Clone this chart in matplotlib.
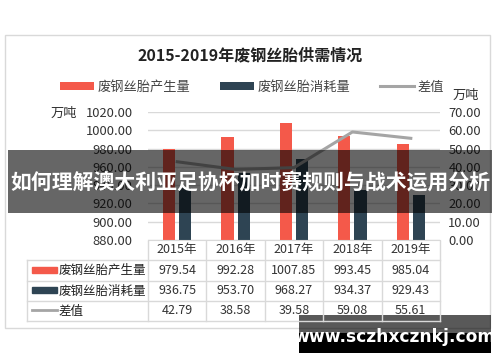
import matplotlib
matplotlib.use('Agg')
import matplotlib.pyplot as plt
import numpy as np
from matplotlib import transforms
from matplotlib.patches import Rectangle
from matplotlib.lines import Line2D

plt.rcParams['font.family'] = ['Noto Sans CJK SC', 'DejaVu Sans']

# data
years = ['2015年', '2016年', '2017年', '2018年', '2019年']
produced = [979.54, 992.28, 1007.85, 993.45, 985.04]
consumed = [936.75, 953.70, 968.27, 934.37, 929.43]
diff = [42.79, 38.58, 39.58, 59.08, 55.61]
series_names = ['废钢丝胎产生量', '废钢丝胎消耗量', '差值']
left_ticks = [880, 900, 920, 940, 960, 980, 1000, 1020]
right_ticks = [0, 10, 20, 30, 40, 50, 60, 70]
title = '2015-2019年废钢丝胎供需情况'
unit = '万吨'
banner = '如何理解澳大利亚足协杯加时赛规则与战术运用分析'
site = 'www.sczhxcznkj.com'

RED = '#F4594A'
DARK = '#2E4453'
GRAY = '#A5A5A5'
GRID = '#D9D9D9'
TXT = '#333333'

W, H = 500, 362
def fx(x): return x / W
def fy(y): return 1 - y / H

fig = plt.figure(figsize=(5, 3.62), dpi=100)

# outer chart border
fig.add_artist(Rectangle((fx(5), fy(328)), fx(490) - fx(5), (328 - 35) / H,
                         fill=False, edgecolor=GRID, lw=1, transform=fig.transFigure))

ax = fig.add_axes([fx(148), fy(240), fx(440) - fx(148), fy(112) - fy(240)])
x = np.arange(len(years))
bw = 0.207
b1 = ax.bar(x - 0.138, produced, bw, color=RED, label=series_names[0])
b2 = ax.bar(x + 0.138, consumed, bw, color=DARK, label=series_names[1])
ax.set_xlim(-0.5, len(years) - 0.5)
ax.set_ylim(left_ticks[0], left_ticks[-1])
ax.set_yticks(left_ticks)
ax.set_yticklabels(['%.2f' % v for v in left_ticks], fontsize=9.3, color=TXT)
ax.set_xticks([])
ax.yaxis.grid(True, color=GRID, lw=1)
ax.set_axisbelow(True)
ax.tick_params(length=0, pad=11)
for s in ['top', 'left', 'right']:
    ax.spines[s].set_visible(False)
ax.spines['bottom'].set_color(GRID)

ax2 = ax.twinx()
ln, = ax2.plot(x, diff, color=GRAY, lw=2.2, label=series_names[2])
ax2.set_ylim(right_ticks[0], right_ticks[-1])
ax2.set_yticks(right_ticks)
ax2.set_yticklabels(['%.2f' % v for v in right_ticks], fontsize=9.3, color=TXT)
ax2.tick_params(length=0, pad=6)
for s in ax2.spines.values():
    s.set_visible(False)

fig.text(fx(250), fy(55), title, ha='center', va='center', fontsize=11.5,
         fontweight='bold', color='#222222')
fig.text(fx(64), fy(113), unit, ha='center', va='center', fontsize=9.5, color=TXT)
fig.text(fx(466), fy(95), unit, ha='center', va='center', fontsize=9.5, color=TXT)

fig.legend([b1, b2, ln], series_names, loc='center', ncol=3,
           bbox_to_anchor=(fx(252), fy(87)), frameon=False, fontsize=9.5,
           handlelength=2.6, handleheight=0.6, columnspacing=2.2, handletextpad=0.3,
           labelcolor='#444444')

# data table under the plot
blend = transforms.blended_transform_factory(ax.transData, fig.transFigure)
row_y = [fy(250), fy(270.5), fy(291), fy(311)]
edges = np.arange(len(years) + 1) - 0.5
for e in edges:
    fig.add_artist(Line2D([e, e], [fy(241), fy(321)], transform=blend, color=GRID, lw=1))
fig.add_artist(Line2D([fx(27), fx(27)], [fy(260), fy(321)], color=GRID, lw=1))
for yy in [260, 281, 301, 321]:
    fig.add_artist(Line2D([fx(27), fx(440)], [fy(yy), fy(yy)], color=GRID, lw=1))

for i, yr in enumerate(years):
    fig.text(i, row_y[0], yr, transform=blend, ha='center', va='center', fontsize=9, color=TXT)
    fig.text(i, row_y[1], '%.2f' % produced[i], transform=blend, ha='center', va='center', fontsize=9, color=TXT)
    fig.text(i, row_y[2], '%.2f' % consumed[i], transform=blend, ha='center', va='center', fontsize=9, color=TXT)
    fig.text(i, row_y[3], '%.2f' % diff[i], transform=blend, ha='center', va='center', fontsize=9, color=TXT)

fig.add_artist(Rectangle((fx(32), fy(272.5)), fx(57) - fx(32), 6 / H, color=RED, transform=fig.transFigure))
fig.add_artist(Rectangle((fx(32), fy(293)), fx(57) - fx(32), 6 / H, color=DARK, transform=fig.transFigure))
fig.add_artist(Line2D([fx(32), fx(57)], [fy(310), fy(310)], color=GRAY, lw=2))
for name, yy in zip(series_names, row_y[1:]):
    fig.text(fx(59), yy, name, ha='left', va='center', fontsize=9, color='#222222')

# overlay banner
fig.add_artist(Rectangle((fx(8), fy(213)), fx(492) - fx(8), (213 - 150) / H,
                         color='black', alpha=0.6, lw=0, transform=fig.transFigure))
fig.text(fx(250), fy(182), banner, ha='center', va='center', fontsize=15,
         fontweight='bold', color='white')

# site watermark
fig.add_artist(Rectangle((fx(299), fy(333)), fx(491) - fx(299), (333 - 315) / H,
                         color='black', alpha=0.65, lw=0, transform=fig.transFigure))
fig.add_artist(Rectangle((fx(299), fy(353)), fx(491) - fx(299), (353 - 333) / H,
                         color='black', lw=0, transform=fig.transFigure))
fig.text(fx(394), fy(337), site, ha='center', va='center', fontsize=12.3,
         fontweight='bold', color='white', family='DejaVu Sans')

fig.savefig('out.png', dpi=100)
